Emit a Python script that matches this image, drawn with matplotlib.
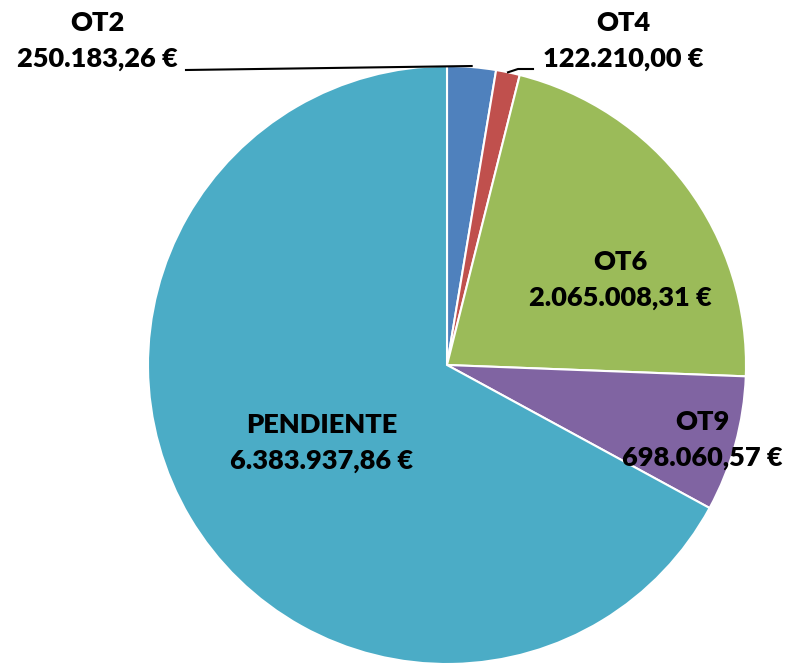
import numpy as np
import matplotlib.pyplot as plt

# datos
categorias = ["OT2", "OT4", "OT6", "OT9", "PENDIENTE"]
importes = [250183.26, 122210.00, 2065008.31, 698060.57, 6383937.86]
etiquetas = ["250.183,26 €", "122.210,00 €", "2.065.008,31 €", "698.060,57 €", "6.383.937,86 €"]
colores = ["#4F81BD", "#C0504D", "#9BBB59", "#8064A2", "#4BACC6"]

W, H = 796, 669
fig = plt.figure(figsize=(W / 100, H / 100), dpi=100)
ax = fig.add_axes([0, 0, 1, 1])

cx, cy, r = 447, H - 365, 299
wedges, _ = ax.pie(importes, colors=colores, startangle=90, counterclock=False,
                   center=(cx, cy), radius=r, frame=True,
                   wedgeprops=dict(edgecolor="white", linewidth=1.5))
ax.set_xlim(0, W)
ax.set_ylim(0, H)
ax.set_aspect("equal")
ax.axis("off")

fuente = dict(family=["Lato", "DejaVu Sans"], fontweight="heavy", fontsize=19.5, color="black")

def punto(w, f):
    ang = np.deg2rad((w.theta1 + w.theta2) / 2)
    return cx + f * r * np.cos(ang), cy + f * r * np.sin(ang)

# etiquetas interiores
pos_int = {2: (620, H - 280), 3: (702, H - 440), 4: (322, H - 443)}
for i, (x, y) in pos_int.items():
    ax.text(x, y, categorias[i] + "\n" + etiquetas[i], ha="center", va="center",
            linespacing=1.55, **fuente)

# OT2 con línea guía
x0, y0 = punto(wedges[0], 1.0)
ax.plot([186, x0], [H - 70, y0 + 1], color="black", lw=1.5)
ax.text(97, H - 41, categorias[0] + "\n" + etiquetas[0], ha="center", va="center",
        linespacing=1.55, **fuente)

# OT4 con línea guía
x1, y1 = punto(wedges[1], 1.0)
ax.plot([x1, x1 + 10, 533], [y1, H - 69, H - 69], color="black", lw=1.5)
ax.text(623, H - 41, categorias[1] + "\n" + etiquetas[1], ha="center", va="center",
        linespacing=1.55, **fuente)

fig.savefig("out.png", dpi=100)
